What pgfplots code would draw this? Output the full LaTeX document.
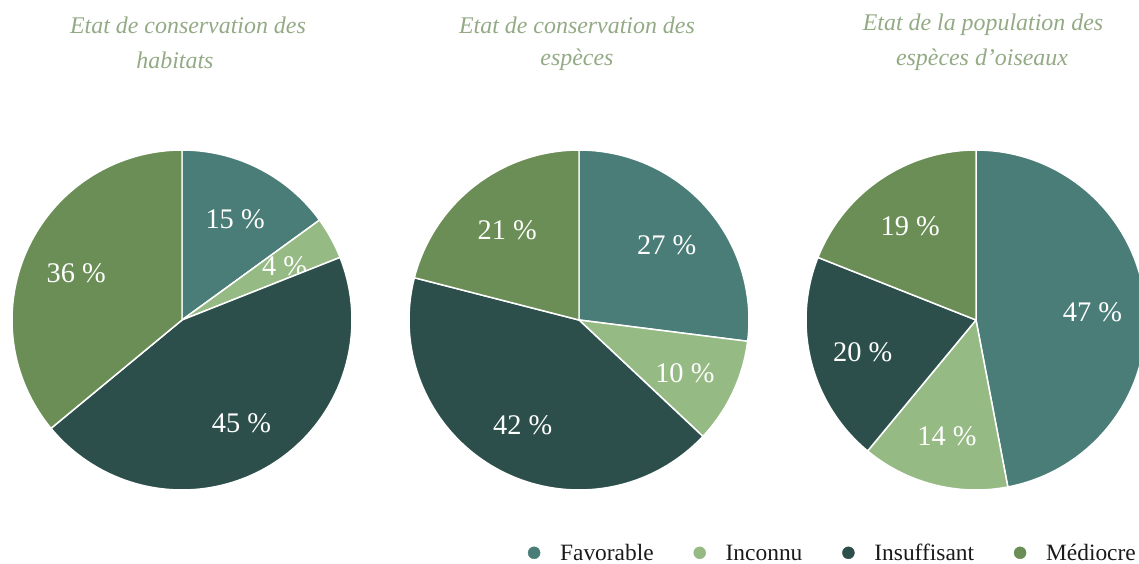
\documentclass[border=0pt]{standalone}
\usepackage{pgfplots}
\pgfplotsset{compat=1.18}
\usepackage{fontspec}
\setmainfont{Liberation Serif}
\definecolor{cFav}{HTML}{4A7D77}
\definecolor{cInc}{HTML}{96BA84}
\definecolor{cIns}{HTML}{2D4F4B}
\definecolor{cMed}{HTML}{6A8E55}
\definecolor{cTitle}{HTML}{93AA85}
\definecolor{cText}{HTML}{1A1A1A}
\newcommand{\slice}[6]{% cx, cy, start(%), value(%), colour, label
  \pgfmathsetmacro{\aS}{90-3.6*(#3)}%
  \pgfmathsetmacro{\aE}{90-3.6*(#3+#4)}%
  \pgfmathsetmacro{\aM}{90-3.6*(#3+#4/2)}%
  \pgfmathsetmacro{\lx}{#1+117*cos(\aM)}%
  \pgfmathsetmacro{\ly}{#2-3+117*sin(\aM)}%
  \edef\doit{\noexpand\addplot[forget plot, fill=#5, draw=white, line width=1.5pt, line join=round, domain=\aE:\aS, samples=90, variable=\noexpand\t] ({#1+170*cos(\noexpand\t)},{#2+170*sin(\noexpand\t)}) -- (axis cs:#1,#2) -- cycle;
  \noexpand\node[font=\noexpand\fontsize{28.5}{32}\noexpand\selectfont, text=white] at (axis cs:\lx,\ly) {#6};}%
  \doit
}
% pie: cx, cy, Favorable, Inconnu, Insuffisant, Mediocre
\newcommand{\pie}[6]{%
  \slice{#1}{#2}{0}{#3}{cFav}{#3 \%}%
  \slice{#1}{#2}{#3}{#4}{cInc}{#4 \%}%
  \slice{#1}{#2}{#3+#4}{#5}{cIns}{#5 \%}%
  \slice{#1}{#2}{#3+#4+#5}{#6}{cMed}{#6 \%}%
}
\begin{document}
\begin{tikzpicture}
\begin{axis}[
  at={(0,0)}, anchor=south west,
  x=1bp, y=1bp, scale only axis,
  xmin=0, xmax=1139, ymin=0, ymax=564,
  hide axis,
  legend columns=4,
  legend style={at={(axis cs:1138,2)}, anchor=south east, draw=none, fill=none,
    font=\fontsize{23.5}{26}\selectfont, text=cText, inner sep=0pt,
    nodes={inner ysep=0pt},
    /tikz/every odd column/.append style={column sep=18bp},
    /tikz/every even column/.append style={column sep=38bp}},
  legend cell align=left,
]
\addlegendimage{only marks, mark=*, mark size=6bp, color=cFav}
\addlegendentry{\vphantom{Ifl}Favorable}
\addlegendimage{only marks, mark=*, mark size=6bp, color=cInc}
\addlegendentry{\vphantom{Ifl}Inconnu}
\addlegendimage{only marks, mark=*, mark size=6bp, color=cIns}
\addlegendentry{\vphantom{Ifl}Insuffisant}
\addlegendimage{only marks, mark=*, mark size=6bp, color=cMed}
\addlegendentry{\vphantom{Ifl}Médiocre}

\pie{182}{244}{15}{4}{45}{36}
\pie{579}{244}{27}{10}{42}{21}
\pie{976}{244}{47}{14}{20}{19}

\node[font=\itshape\fontsize{24}{30}\selectfont, text=cTitle] at (axis cs:188,539) {Etat de conservation des};
\node[font=\itshape\fontsize{24}{30}\selectfont, text=cTitle] at (axis cs:175,504) {habitats};
\node[font=\itshape\fontsize{24}{30}\selectfont, text=cTitle] at (axis cs:577,539) {Etat de conservation des};
\node[font=\itshape\fontsize{24}{30}\selectfont, text=cTitle] at (axis cs:577,504) {espèces};
\node[font=\itshape\fontsize{24}{30}\selectfont, text=cTitle] at (axis cs:983,539) {Etat de la population des};
\node[font=\itshape\fontsize{24}{30}\selectfont, text=cTitle] at (axis cs:982,504) {espèces d’oiseaux};
\end{axis}
\pgfresetboundingbox
\useasboundingbox (0,0) rectangle (1139bp,564bp);
\end{tikzpicture}
\end{document}
